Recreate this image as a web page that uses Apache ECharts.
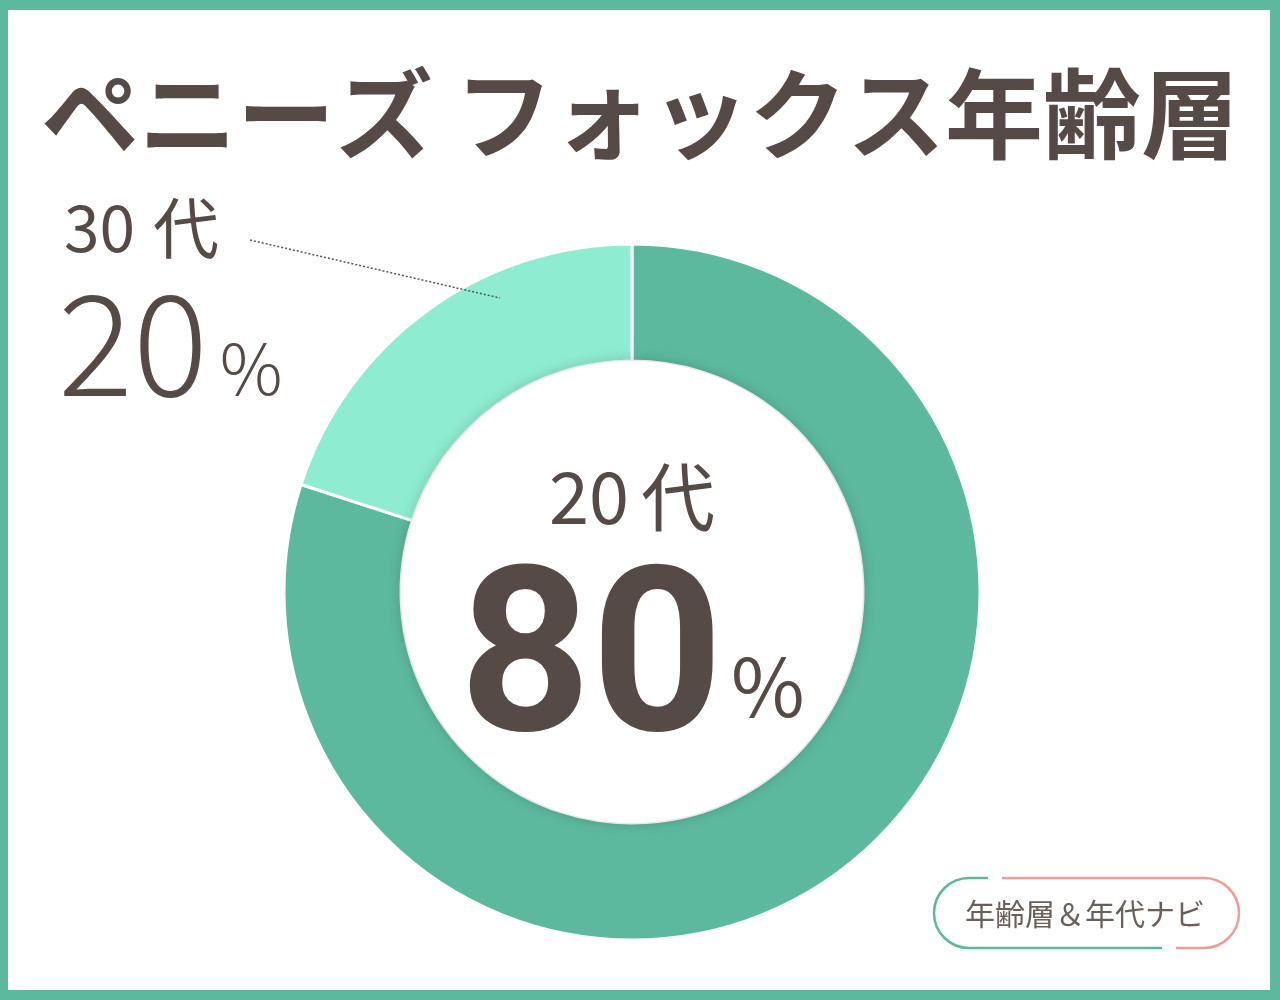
<!DOCTYPE html>
<html>
<head>
<meta charset="utf-8">
<script src="https://cdn.jsdelivr.net/npm/echarts@6/dist/echarts.min.js"></script>
<style>
html, body { margin: 0; padding: 0; background: #fff; }
#chart { width: 1280px; height: 1000px; }
</style>
</head>
<body>
<div id="chart"></div>
<script>
// chart data
var titleText = 'ペニーズ フォックス年齢層';
var ageNames = ['20代', '30代'];
var agePercents = [80, 20];
var badgeText = '年齢層＆年代ナビ';

var textColor = '#554a45',
    darkGreen = '#5cb99e',
    lightGreen = '#8eecd0',
    pink = '#f19b9b',
    jp = '"Noto Sans CJK JP", sans-serif',
    cx = 632,
    cy = 592;

var myChart = echarts.init(document.getElementById('chart'));

function pieData() {
    return ageNames.map(function (name, i) {
        return { name: name, value: agePercents[i] };
    });
}

// "20代" -> digits + kanji as two rich tokens so they can be spaced apart
function splitName(name, dTag, kTag) {
    return '{' + dTag + '|' + name.replace('代', '') + '}{' + kTag + '|代}';
}

myChart.setOption({
    backgroundColor: '#fff',
    animation: false,
    title: {
        text: titleText,
        left: 'center',
        top: 60,
        textStyle: {
            fontFamily: jp,
            fontSize: 98,
            fontWeight: 'bold',
            color: textColor
        }
    },
    graphic: [
        // frame
        {
            type: 'rect',
            z: 100,
            shape: { x: -2, y: 0, width: 1282, height: 1000 },
            style: { fill: null, stroke: darkGreen, lineWidth: 20 }
        },
        // leader line for 30代
        {
            type: 'line',
            z: 100,
            shape: { x1: 250, y1: 240, x2: 500, y2: 298 },
            style: { stroke: '#555', lineWidth: 1.5, lineDash: [2, 2] }
        },
        // badge
        { type: 'arc', z: 100, shape: { cx: 969, cy: 913, r: 35, startAngle: Math.PI / 2, endAngle: Math.PI * 1.5, clockwise: true },
          style: { fill: null, stroke: darkGreen, lineWidth: 2.5 } },
        { type: 'line', z: 100, shape: { x1: 969, y1: 878, x2: 988, y2: 878 }, style: { stroke: darkGreen, lineWidth: 2.5 } },
        { type: 'line', z: 100, shape: { x1: 969, y1: 948, x2: 1162, y2: 948 }, style: { stroke: darkGreen, lineWidth: 2.5 } },
        { type: 'arc', z: 100, shape: { cx: 1204, cy: 913, r: 35, startAngle: -Math.PI / 2, endAngle: Math.PI / 2, clockwise: true },
          style: { fill: null, stroke: pink, lineWidth: 2.5 } },
        { type: 'line', z: 100, shape: { x1: 1002, y1: 878, x2: 1204, y2: 878 }, style: { stroke: pink, lineWidth: 2.5 } },
        { type: 'line', z: 100, shape: { x1: 1176, y1: 948, x2: 1204, y2: 948 }, style: { stroke: pink, lineWidth: 2.5 } },
        {
            type: 'text',
            z: 100,
            x: 1085,
            y: 914,
            style: {
                text: badgeText,
                fontFamily: jp,
                fontSize: 30,
                fill: '#6a5f5a',
                align: 'center',
                verticalAlign: 'middle'
            }
        }
    ],
    series: [
        {
            type: 'pie',
            z: 2,
            center: [cx, cy],
            radius: [231, 348],
            startAngle: 90,
            clockwise: true,
            silent: true,
            color: [darkGreen, lightGreen],
            itemStyle: { borderColor: '#fff', borderWidth: 3 },
            label: {
                show: true,
                formatter: function (p) {
                    if (p.dataIndex === 0) return '';
                    return splitName(p.name, 'd', 'k') + '\n{v|' + p.value + '}{p|%}';
                },
                align: 'left',
                rich: {
                    d: { fontFamily: jp, fontSize: 64, color: textColor, lineHeight: 110, padding: [0, 18, 0, 6] },
                    k: { fontFamily: jp, fontSize: 66, color: textColor, lineHeight: 110 },
                    v: { fontFamily: jp, fontSize: 140, fontWeight: 300, color: textColor, lineHeight: 120 },
                    p: { fontFamily: jp, fontSize: 70, fontWeight: 300, color: textColor, verticalAlign: 'bottom', lineHeight: 76, padding: [0, 0, 0, 12] }
                }
            },
            labelLine: { show: false },
            labelLayout: function (params) {
                if (params.dataIndex === 1) {
                    return { x: 58, y: 173, align: 'left', verticalAlign: 'top' };
                }
            },
            data: pieData()
        },
        {
            // white centre with soft shadow on ring, carries the 20代 label
            type: 'pie',
            z: 3,
            center: [cx, cy],
            radius: [0, 231],
            silent: true,
            itemStyle: {
                color: '#fff',
                shadowBlur: 14,
                shadowColor: 'rgba(0,0,0,0.2)'
            },
            label: {
                show: true,
                position: 'center',
                formatter: function () {
                    return splitName(ageNames[0], 'd', 'k') + '\n{v|' + agePercents[0] + '}{p|%}';
                },
                rich: {
                    d: { fontFamily: jp, fontSize: 72, color: textColor, lineHeight: 160, padding: [0, 12, 0, 0] },
                    k: { fontFamily: jp, fontSize: 74, color: textColor, lineHeight: 160 },
                    v: { fontFamily: 'Roboto, sans-serif', fontSize: 230, fontWeight: 'bold', color: textColor, lineHeight: 190 },
                    p: { fontFamily: jp, fontSize: 80, color: textColor, verticalAlign: 'bottom', lineHeight: 80, padding: [0, 0, 40, 8] }
                }
            },
            labelLine: { show: false },
            data: [{ name: ageNames[0], value: agePercents[0] }]
        }
    ]
});
</script>
</body>
</html>
